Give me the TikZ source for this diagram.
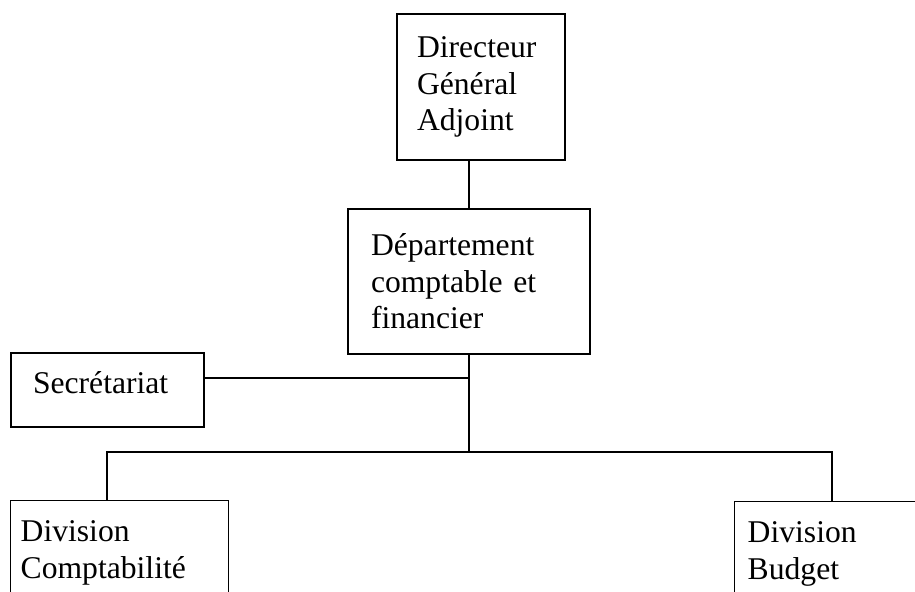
\documentclass[tikz,border=0pt]{standalone}
\usepackage{fontspec}
\setmainfont{Liberation Serif}
\usepackage{tikz}
\tikzstyle{box}=[rectangle, draw=black, line width=1pt, align=left, font=\fontsize{22.5}{26}\selectfont]
\tikzstyle{link}=[line width=1pt]
\begin{document}
\begin{tikzpicture}
\useasboundingbox (0,0) rectangle (22.875,-14.775);
\clip (0,0) rectangle (22.875,-14.775);
\node[box, text width=3.2cm, inner xsep=0.5cm, minimum height=3.65cm] (DGA) at (12.025,-2.175){Directeur\\G\'en\'eral\\Adjoint};
\node[box, text width=4.9cm, inner xsep=0.575cm, minimum height=3.625cm] (DCF) at (11.725,-7.0375){D\'epartement\\comptable et\\financier};
\node[box, text width=3.725cm, inner xsep=0.55cm, text depth=0.4cm, minimum height=1.85cm] (SEC) at (2.6875,-9.75){Secr\'etariat};
\node[box, anchor=north west, text width=4.95cm, inner xsep=0.25cm, inner ysep=0.5cm] (DC) at (0.25,-12.5){Division\\Comptabilit\'e};
\node[box, anchor=north west, text width=8cm, inner xsep=0.325cm, inner ysep=0.5cm] (DB) at (18.35,-12.525){Division\\Budget};
\coordinate (secjoin) at (11.725,-9.45);
\coordinate (bus) at (11.725,-11.3);
\coordinate (cjoin) at (2.675,-11.3);
\coordinate (bjoin) at (20.8,-11.3);
\draw[link] (DCF.north) -- (DCF.north |- DGA.south);
\draw[link] (DCF.south) -- (bus);
\draw[link] (secjoin) -- (secjoin -| SEC.east);
\draw[link] (DC.north -| cjoin) -- (cjoin) -- (bjoin) -- (bjoin |- DB.north);
\end{tikzpicture}
\end{document}
